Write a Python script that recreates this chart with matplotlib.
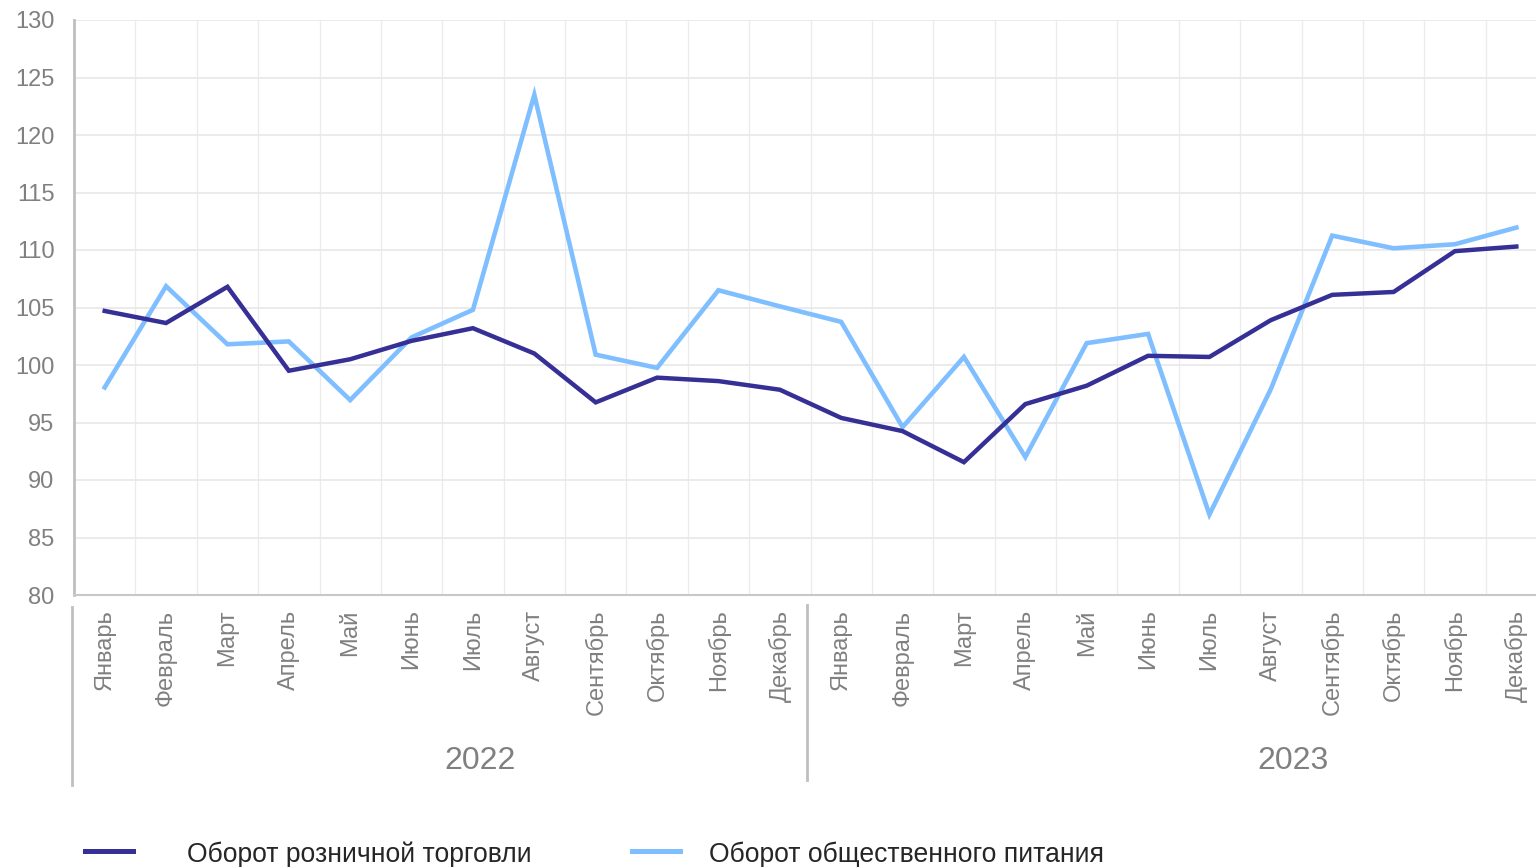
import matplotlib
matplotlib.use("Agg")
import matplotlib.pyplot as plt
from matplotlib.lines import Line2D
import matplotlib.transforms as mtransforms

plt.rcParams['font.family'] = ['Liberation Sans', 'DejaVu Sans']

months = ['Январь', 'Февраль', 'Март', 'Апрель', 'Май', 'Июнь', 'Июль',
          'Август', 'Сентябрь', 'Октябрь', 'Ноябрь', 'Декабрь']
years = ['2022', '2023']

retail = [104.7, 103.65, 106.8, 99.5, 100.5, 102.1, 103.2, 101.0, 96.75, 98.9, 98.6, 97.85,
          95.4, 94.25, 91.55, 96.6, 98.2, 100.8, 100.7, 103.9, 106.1, 106.35, 109.9, 110.3]
catering = [98.05, 106.85, 101.8, 102.05, 96.95, 102.4, 104.8, 123.5, 100.9, 99.75, 106.5, 105.1,
            103.75, 94.6, 100.7, 92.0, 101.9, 102.7, 87.0, 97.9, 111.25, 110.15, 110.5, 111.95]
series_names = ['Оборот розничной торговли', 'Оборот общественного питания']

DARK = '#352f96'
LIGHT = '#80bfff'
GRAY = '#808080'

W, H = 1536, 867
fig = plt.figure(figsize=(W / 100, H / 100), dpi=100)
# axes in pixels: left 74, right 1547, top 20, bottom 595
ax = fig.add_axes([74 / W, (H - 595) / H, (1547 - 74) / W, 575 / H])

x = list(range(len(retail)))
ax.plot(x, retail, color=DARK, lw=3.2, solid_joinstyle='miter', zorder=3)
ax.plot(x, catering, color=LIGHT, lw=3.3, solid_joinstyle='miter', zorder=2)

ax.set_xlim(-0.5, len(retail) - 0.5)
ax.set_ylim(80, 130)
ax.set_yticks(range(80, 131, 5))
ax.tick_params(axis='y', length=0, pad=14, labelsize=17, labelcolor=GRAY)

ax.set_xticks(x)
ax.set_xticklabels(months * 2, rotation=90, va='top')
ax.tick_params(axis='x', length=0, pad=10.5, labelsize=17, labelcolor=GRAY)
ax.set_xticks([i + 0.5 for i in x], minor=True)
ax.tick_params(axis='x', which='minor', length=0)

ax.grid(axis='y', color='#e8e8e8', lw=1.2)
ax.grid(axis='x', which='minor', color='#ececec', lw=1.0)
ax.set_axisbelow(True)

for s in ['top', 'right']:
    ax.spines[s].set_visible(False)
ax.spines['left'].set_color('#bfbfbf')
ax.spines['left'].set_linewidth(2.0)
ax.spines['bottom'].set_color('#c8c8c8')
ax.spines['bottom'].set_linewidth(1.5)

# group separators and year labels
trans = mtransforms.blended_transform_factory(ax.transData, ax.transAxes)
for xs, y0, y1 in [(-0.53, -0.021, -0.331), (11.45, -0.017, -0.322)]:
    ax.add_line(Line2D([xs, xs], [y0, y1], transform=trans, color='#bfbfbf',
                       lw=2.0, clip_on=False))
for xc, yr in zip([6.11, 19.36], years):
    ax.text(xc, -0.288, yr, transform=trans, ha='center', va='center',
            fontsize=23, color=GRAY)

# legend
colors = [DARK, LIGHT]
line_x = [(85, 133), (632, 680)]
text_x = [187, 709]
for (lx0, lx1), tx, c, name in zip(line_x, text_x, colors, series_names):
    fig.add_artist(Line2D([lx0 / W, lx1 / W], [(H - 851) / H] * 2,
                          transform=fig.transFigure, color=c, lw=3.6))
    fig.text(tx / W, (H - 855) / H, name, ha='left', va='center',
             fontsize=19.1, color='#262626')

fig.savefig('out.png', dpi=100)
